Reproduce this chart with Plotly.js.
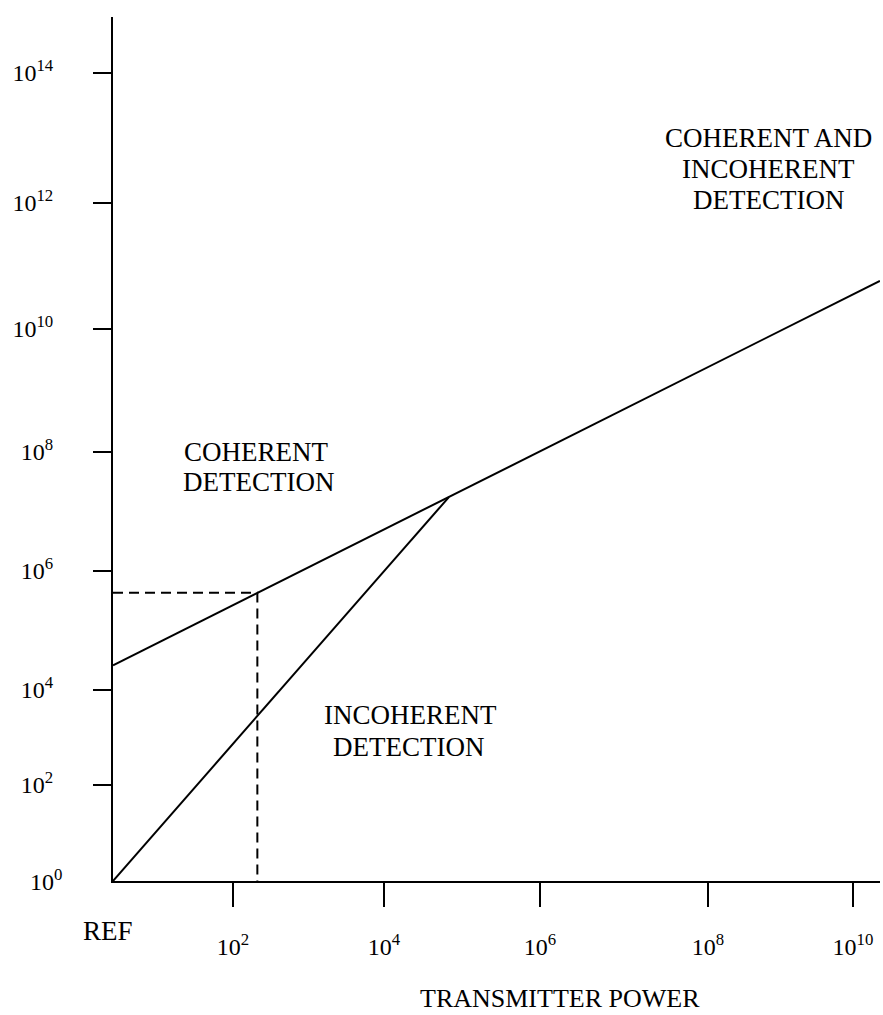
<!DOCTYPE html>
<html>
<head>
<meta charset="utf-8">
<script src="https://cdn.plot.ly/plotly-3.0.1.min.js"></script>
<style>html,body{margin:0;padding:0;background:#fff;}#chart{width:883px;height:1015px;}</style>
</head>
<body>
<div id="chart"></div>
<script>
// ---- Data ----
// Transmitter power (relative to REF = 10^0) and corresponding value on the vertical axis
const coherentPower = [1, 6.8e4, 2.35e10];
const coherentValue = [2.6e4, 1.75e7, 5.8e10];
const incoherentPower = [1, 6.8e4];
const incoherentValue = [1, 1.75e7];
const examplePower = [1, 2.1e2, 2.1e2];
const exampleValue = [4.3e5, 4.3e5, 1];

// Tick decades
const xTickExp = [2, 4, 6, 8, 10];
const yTickExp = [2, 4, 6, 8, 10, 12, 14];

// ---- Hand-drawn (non-uniform) axis scales: decade -> fraction of axis length ----
const xScaleExp = [0, 2, 4, 6, 8, 10];
const xScaleFrac = [0, 0.1565, 0.3533, 0.5567, 0.7757, 0.9648];
const yScaleExp = [0, 2, 4, 6, 8, 10, 12, 14];
const yScaleFrac = [0, 0.1111, 0.2211, 0.3588, 0.4965, 0.6389, 0.7847, 0.9352];

function warp(e, E, F) {
  let i = 0;
  while (i < E.length - 2 && e > E[i + 1]) i++;
  const t = (e - E[i]) / (E[i + 1] - E[i]);
  return F[i] + t * (F[i + 1] - F[i]);
}
const wx = v => warp(Math.log10(v), xScaleExp, xScaleFrac);
const wy = v => warp(Math.log10(v), yScaleExp, yScaleFrac);

const FONT = 'Liberation Serif, Times New Roman, serif';
const lineStyle = {color: '#000', width: 2};

const traces = [
  {x: coherentPower.map(wx), y: coherentValue.map(wy), mode: 'lines', line: lineStyle, cliponaxis: false, hoverinfo: 'skip'},
  {x: incoherentPower.map(wx), y: incoherentValue.map(wy), mode: 'lines', line: lineStyle, cliponaxis: false, hoverinfo: 'skip'},
  {x: examplePower.map(wx), y: exampleValue.map(wy), mode: 'lines', line: {color: '#000', width: 2, dash: '10px,6px'}, cliponaxis: false, hoverinfo: 'skip'}
];

function ann(text, px, py, size, xanchor) {
  return {text: text, xref: 'paper', yref: 'paper', x: px, y: py, showarrow: false,
          xanchor: xanchor || 'center', yanchor: 'middle', font: {family: FONT, size: size, color: '#000'}};
}
// pixel -> paper helpers for label placement (plot area 113..880 x 17..881)
const PX = p => (p - 113) / 767;
const PY = p => (881 - p) / 864;

const layout = {
  width: 883, height: 1015,
  margin: {l: 113, r: 3, t: 17, b: 134},
  paper_bgcolor: '#fff', plot_bgcolor: '#fff',
  showlegend: false,
  font: {family: FONT, color: '#000'},
  xaxis: {
    range: [0, 1], showgrid: false, zeroline: false,
    showline: true, linecolor: '#000', linewidth: 2,
    tickmode: 'array', tickvals: xTickExp.map(e => warp(e, xScaleExp, xScaleFrac)),
    ticktext: xTickExp.map(e => '10<sup>' + e + '</sup>'),
    ticks: 'outside', ticklen: 24, tickwidth: 2, tickcolor: '#000',
    ticklabelstandoff: 19,
    tickfont: {family: FONT, size: 24, color: '#000'}
  },
  yaxis: {
    range: [0, 1], showgrid: false, zeroline: false,
    showline: true, linecolor: '#000', linewidth: 2,
    tickmode: 'array', tickvals: yTickExp.map(e => warp(e, yScaleExp, yScaleFrac)),
    ticktext: yTickExp.map(e => '10<sup>' + e + '</sup>'),
    ticks: 'outside', ticklen: 18, tickwidth: 2, tickcolor: '#000',
    ticklabelstandoff: 35,
    tickfont: {family: FONT, size: 24, color: '#000'}
  },
  annotations: [
    ann('COHERENT AND', PX(768), PY(138), 27),
    ann('INCOHERENT', PX(768), PY(169), 27),
    ann('DETECTION', PX(768), PY(200), 27),
    ann('COHERENT', PX(256), PY(452), 27),
    ann('DETECTION', PX(258), PY(482), 27),
    ann('INCOHERENT', PX(410), PY(715), 27),
    ann('DETECTION', PX(408), PY(747), 27),
    ann('REF', PX(108), PY(931), 27),
    ann('10<sup>0</sup>', PX(64), PY(880), 24, 'right'),
    ann('TRANSMITTER POWER', PX(560), PY(998), 26)
  ]
};

Plotly.newPlot('chart', traces, layout, {staticPlot: true, displayModeBar: false});
</script>
</body>
</html>
